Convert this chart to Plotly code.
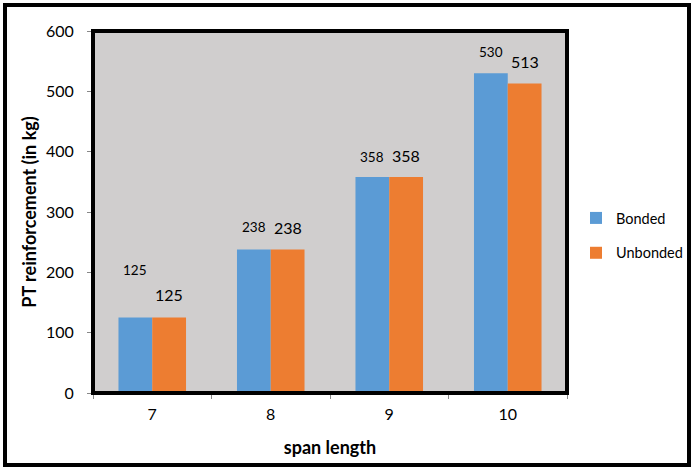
import plotly.graph_objects as go

categories = ["7", "8", "9", "10"]
bonded = [125, 238, 358, 530]
unbonded = [125, 238, 358, 513]
bonded_label_shift = [48, 22, 20, 21]
unbonded_label_shift = [23, 22, 22, 22]

blue = "#5B9BD5"
orange = "#ED7D31"
font = "Lato, Open Sans, sans-serif"

fig = go.Figure()
fig.add_trace(go.Bar(name="Bonded", x=categories, y=bonded, marker_color=blue,
                     marker_line_width=0, legendgroup="b"))
fig.add_trace(go.Bar(name="Unbonded", x=categories, y=unbonded, marker_color=orange,
                     marker_line_width=0, legendgroup="u"))

for i, c in enumerate(categories):
    fig.add_annotation(x=i, y=bonded[i], text=str(bonded[i]), showarrow=False,
                       xshift=-17, yshift=bonded_label_shift[i], yanchor="middle",
                       font=dict(size=13.5, color="#000", family=font))
    fig.add_annotation(x=i, y=unbonded[i], text=str(unbonded[i]), showarrow=False,
                       xshift=17, yshift=unbonded_label_shift[i], yanchor="middle",
                       font=dict(size=16, color="#000", family=font))

W, H = 694, 469
l, r, t, b = 93, 127, 31, 76
pw, ph = W - l - r, H - t - b

def px_x(px):
    return (px - l) / pw

def px_y(py):
    return (H - b - py) / ph

fig.add_shape(type="rect", xref="paper", yref="paper",
              x0=px_x(5), x1=px_x(689), y0=px_y(465), y1=px_y(5),
              line=dict(color="black", width=4), layer="below")
fig.add_shape(type="rect", xref="paper", yref="paper",
              x0=0, x1=1, y0=0, y1=1,
              line=dict(color="black", width=4), layer="above")

fig.update_layout(
    width=W, height=H,
    margin=dict(l=l, r=r, t=t, b=b, autoexpand=False),
    paper_bgcolor="white",
    plot_bgcolor="#D0CECE",
    barmode="group",
    bargap=0.43,
    bargroupgap=0,
    font=dict(family=font, color="#000"),
    showlegend=True,
    legend=dict(x=px_x(576), y=px_y(202), xanchor="left", yanchor="top",
                font=dict(size=14.5, family=font), tracegroupgap=13,
                traceorder="grouped",
                bgcolor="rgba(0,0,0,0)", itemwidth=30),
    xaxis=dict(
        type="category", range=[-0.5, len(categories) - 0.5],
        automargin=False,
        title=dict(text="<b>span length</b>", font=dict(size=18, family=font), standoff=19),
        tickfont=dict(size=16, family=font),
        ticks="outside", tickson="boundaries", ticklen=5, tickcolor="#888",
        ticklabelstandoff=10,
        showgrid=False, showline=False,
    ),
    yaxis=dict(
        automargin=False,
        title=dict(text="<b>PT reinforcement (in kg)</b>", font=dict(size=18, family=font), standoff=4),
        range=[0, 600], dtick=100,
        tickfont=dict(size=16, family=font),
        ticks="outside", ticklen=5, tickcolor="#888",
        ticklabelstandoff=10,
        showgrid=False, showline=False, zeroline=False,
    ),
)

fig.write_html("out.html", config={"displayModeBar": False},
               post_script="document.body.style.margin='0';document.body.style.overflow='hidden';")
